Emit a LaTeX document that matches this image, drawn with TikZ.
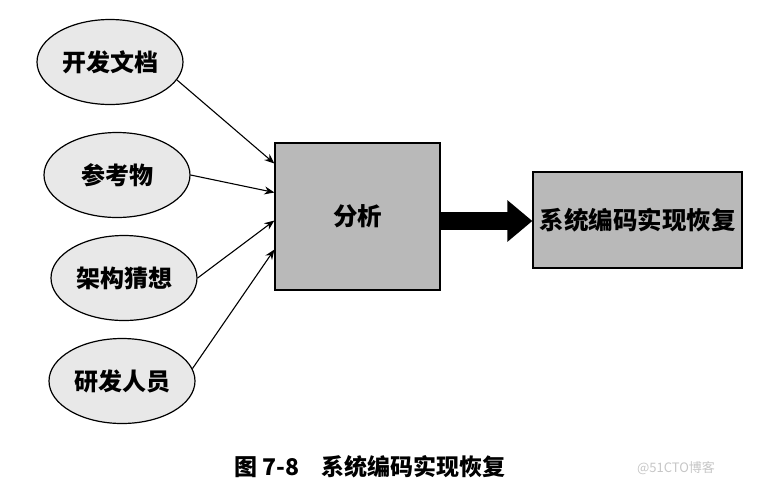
\documentclass[tikz,border=0pt]{standalone}
\usepackage{fontspec}
\newfontfamily\cjk{Noto Sans CJK SC}
\usetikzlibrary{shapes.geometric,arrows.meta,calc}
\tikzset{
  src/.style={ellipse,draw=black,line width=1.2pt,fill=gray!18,minimum width=146pt,minimum height=85pt,inner sep=0pt,font=\cjk\bfseries\fontsize{24}{26}\selectfont},
  blk/.style={rectangle,draw=black,line width=1.2pt,fill=gray!55,inner sep=0pt,font=\cjk\bfseries\fontsize{24.5}{26}\selectfont},
  link/.style={-{Stealth[length=10pt,width=8pt]},line width=1.1pt},
  bigarrow/.style={-{Triangle[length=25pt,width=40pt]},line width=18pt}
}
\begin{document}
\begin{tikzpicture}[x=1pt,y=-1pt]
\useasboundingbox (0,0) rectangle (762,496);
\node[src] (e1) at (110,62) {开发文档};
\node[src] (e2) at (117,175) {参考物};
\node[src] (e3) at (124,278) {架构猜想};
\node[src] (e4) at (122,381) {研发人员};
\node[blk,minimum width=165pt,minimum height=147pt] (b1) at (357.5,216.5) {分析};
\node[blk,minimum width=209pt,minimum height=96pt] (b2) at (637.5,220) {系统编码实现恢复};
\coordinate (t1) at ([yshift=53pt]b1.west);
\coordinate (t2) at ([yshift=24pt]b1.west);
\coordinate (t3) at ([yshift=-4pt]b1.west);
\coordinate (t4) at ([yshift=-33pt]b1.west);
\draw[link] (e1.-15) -- (t1);
\draw[link] (e2.east) -- (t2);
\draw[link] (e3.east) -- (t3);
\draw[link] (e4.10) -- (t4);
\draw[bigarrow] (b1.east |- 0,221) -- (b2.west |- 0,221);
\node[anchor=west,font=\cjk\bfseries\fontsize{23}{25}\selectfont,inner sep=0pt] (cap) at (234,467) {图 7-8\hspace{22pt}系统编码实现恢复};
\node[font=\cjk\fontsize{13}{15}\selectfont,text=gray!45,inner sep=0pt] (wm) at (676,468) {@51CTO博客};
\end{tikzpicture}
\end{document}
